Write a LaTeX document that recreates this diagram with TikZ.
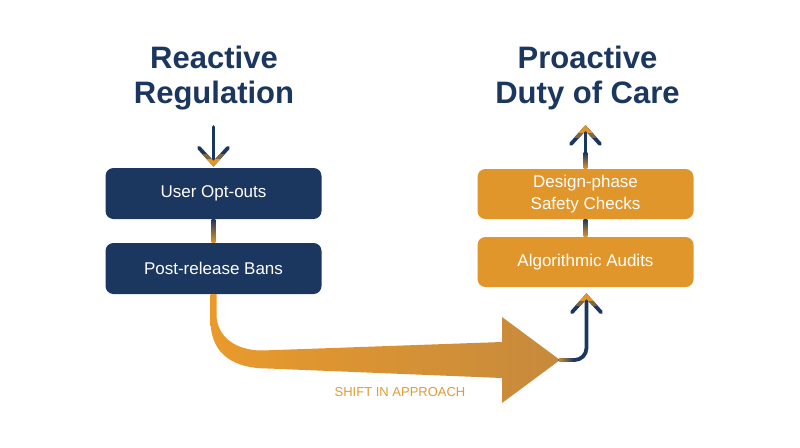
\documentclass[tikz,border=0pt]{standalone}
\usepackage{fontspec}
\setmainfont{Liberation Sans}
\usetikzlibrary{calc}
\definecolor{navy}{HTML}{1B365F}
\definecolor{ora}{HTML}{E1962B}
\definecolor{oraL}{HTML}{E99A2B}
\definecolor{oraD}{HTML}{C68A3D}
\definecolor{oraT}{HTML}{E39A33}
\newcommand\ChevUp[1]{%
  \draw[conn, line join=miter] ($(#1)+(-14.5,16)$) -- (#1) -- ($(#1)+(14.5,16)$);
  \begin{scope}\clip ($(#1)+(-20,4)$) rectangle ($(#1)+(20,9)$);
    \draw[conn, line join=miter, color=ora!50!navy] ($(#1)+(-14.5,16)$) -- (#1) -- ($(#1)+(14.5,16)$);
  \end{scope}
  \begin{scope}\clip ($(#1)+(-20,-6)$) rectangle ($(#1)+(20,4)$);
    \draw[conn, line join=miter, color=ora] ($(#1)+(-14.5,16)$) -- (#1) -- ($(#1)+(14.5,16)$);
  \end{scope}}
\newcommand\ChevDown[1]{%
  \draw[conn, line join=miter] ($(#1)+(-14.5,-16)$) -- (#1) -- ($(#1)+(14.5,-16)$);
  \begin{scope}\clip ($(#1)+(-20,-4)$) rectangle ($(#1)+(20,-9)$);
    \draw[conn, line join=miter, color=ora!50!navy] ($(#1)+(-14.5,-16)$) -- (#1) -- ($(#1)+(14.5,-16)$);
  \end{scope}
  \begin{scope}\clip ($(#1)+(-20,6)$) rectangle ($(#1)+(20,-4)$);
    \draw[conn, line join=miter, color=ora] ($(#1)+(-14.5,-16)$) -- (#1) -- ($(#1)+(14.5,-16)$);
  \end{scope}}
\begin{document}
\begin{tikzpicture}[x=1pt,y=-1pt,
  box/.style={rounded corners=8pt, minimum width=216pt, minimum height=51pt, text=white,
    font=\fontsize{17}{22}\selectfont, align=center, inner sep=0pt},
  navybox/.style={box, fill=navy},
  orabox/.style={box, fill=ora},
  title/.style={text=navy, font=\fontsize{31}{35}\selectfont\bfseries, align=center, inner sep=0pt},
  conn/.style={navy, line width=3.8pt, line cap=round, line join=round},
  bar/.style={line width=0pt}]
\useasboundingbox (0,0) rectangle (800,447);
\fill[white] (0,0) rectangle (800,447);

% titles
\node[title] (t1) at (214,78.5) {Reactive\\Regulation};
\node[title] (t2) at (587.5,78) {Proactive\\Duty of Care};

% boxes
\node[navybox] (u1) at (213.5,193.5) {User Opt-outs};
\node[navybox] (u2) at (213.5,268.5) {Post-release Bans};
\node[orabox, minimum height=50pt] (p1) at (585.5,194) {Design-phase\\Safety Checks};
\node[orabox, minimum height=50pt] (p2) at (585.5,262) {Algorithmic Audits};

% big shift arrow
\coordinate (bt) at (560,360);
\shade[left color=oraL, middle color=oraL, right color=oraD]
  ($(u2.south)+(-3,0)$) -- ++(0,26)
  .. controls ++(0,36) and (236,368.5) .. (268,368.5)
  -- (502,378) -- (502,403) -- (bt) -- (502,317) -- (502,342) -- (262,350.5)
  .. controls (236,350.5) and (216.5,337) .. (216.5,314)
  -- ($(u2.south)+(3,0)$) -- cycle;
\node[text=oraT, font=\fontsize{13}{15}\selectfont] (shift) at (400,392) {SHIFT IN APPROACH};

% left top arrow
\coordinate (la) at (213.5,127);
\coordinate (tL) at ($(u1.north)+(0,-4)$);
\draw[conn] (la) -- (tL);
\ChevDown{tL}

% between left boxes
\shade[top color=navy, middle color=navy, bottom color=ora] ($(u1.south)+(-1.9,0)$) rectangle ($(u2.north)+(1.9,0)$);

% between right boxes
\shade[top color=navy, middle color=navy, bottom color=ora] ($(p1.south)+(-1.9,0)$) rectangle ($(p2.north)+(1.9,0)$);

% right top arrow
\coordinate (tR) at (585.5,128);
\draw[conn, line cap=butt] (p1.north) -- (tR);
\shade[top color=navy, bottom color=ora] ($(p1.north)+(-1.9,-16)$) rectangle ($(p1.north)+(1.9,0)$);
\ChevUp{tR}

% bottom right connector
\coordinate (tB) at ($(p2.south)+(1,9)$);
\draw[conn, rounded corners=12pt] (bt) -- (586.5,360) -- (tB);
\shade[left color=oraD, right color=navy] (559,358.1) rectangle (574,361.9);
\ChevUp{tB}
\end{tikzpicture}
\end{document}
